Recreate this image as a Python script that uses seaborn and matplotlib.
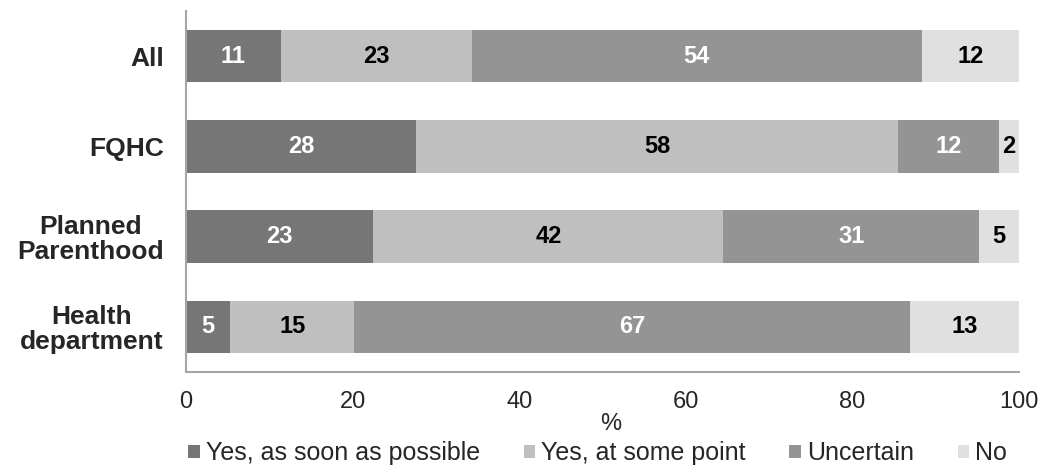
import numpy as np
import pandas as pd
import matplotlib
matplotlib.use("Agg")
import matplotlib.pyplot as plt
import seaborn as sns

categories = ["All", "FQHC", "Planned\nParenthood", "Health\ndepartment"]
series_names = ["Yes, as soon as possible", "Yes, at some point", "Uncertain", "No"]
asap = [11.4, 27.6, 22.5, 5.3]
some_point = [22.9, 57.9, 42.0, 14.9]
uncertain = [54.0, 12.1, 30.7, 66.7]
no = [11.7, 2.4, 4.8, 13.1]
asap_lbl = [11, 28, 23, 5]
some_lbl = [23, 58, 42, 15]
unc_lbl = [54, 12, 31, 67]
no_lbl = [12, 2, 5, 13]
x_ticks = [0, 20, 40, 60, 80, 100]

colors = ["#767676", "#bfbfbf", "#949494", "#e0e0e0"]
text_colors = ["white", "black", "white", "black"]

sns.set_style("white")
plt.rcParams["font.family"] = ["Liberation Sans", "DejaVu Sans"]

values = [asap, some_point, uncertain, no]
labels = [asap_lbl, some_lbl, unc_lbl, no_lbl]
cum = np.cumsum(np.array(values, dtype=float), axis=0)

fig = plt.figure(figsize=(10.43, 4.74), dpi=100)
ax = fig.add_axes([0.1783, 0.2152, 0.7987, 0.7616])

for i in reversed(range(len(series_names))):
    df = pd.DataFrame({"cat": categories, "val": cum[i]})
    sns.barplot(data=df, x="val", y="cat", orient="h", color=colors[i],
                saturation=1, width=0.58, ax=ax, label=series_names[i],
                linewidth=0)

for i in range(len(series_names)):
    start = cum[i] - np.array(values[i])
    for j in range(len(categories)):
        ax.text(start[j] + values[i][j] / 2, j, str(labels[i][j]),
                ha="center", va="center", fontsize=17, fontweight="bold",
                color=text_colors[i])

ax.set_xlim(0, 100)
ax.set_ylim(3.5, -0.5)
ax.set_xticks(x_ticks)
ax.set_xticklabels([str(t) for t in x_ticks], fontsize=17)
ax.set_xlabel("%", fontsize=17, labelpad=2)
ax.xaxis.set_label_coords(0.51, -0.113)
ax.set_ylabel("")
ax.tick_params(axis="x", length=0, pad=14)
ax.tick_params(axis="y", length=0, pad=16)
for lbl in ax.get_yticklabels():
    lbl.set_fontsize(19)
    lbl.set_fontweight("bold")
    lbl.set_multialignment("center")
    lbl.set_linespacing(1.05)

for s in ["top", "right"]:
    ax.spines[s].set_visible(False)
for s in ["left", "bottom"]:
    ax.spines[s].set_color("#a6a6a6")
    ax.spines[s].set_linewidth(1.5)

h, l = ax.get_legend_handles_labels()
order = [l.index(n) for n in series_names]
ax.legend([h[k] for k in order], [l[k] for k in order], ncol=4, frameon=False,
          loc="center", bbox_to_anchor=(0.573, 0.044), bbox_transform=fig.transFigure,
          fontsize=18, handlelength=0.45, handleheight=0.45, handletextpad=0.25,
          columnspacing=1.75, borderaxespad=0)

fig.savefig("out.png", dpi=100)
